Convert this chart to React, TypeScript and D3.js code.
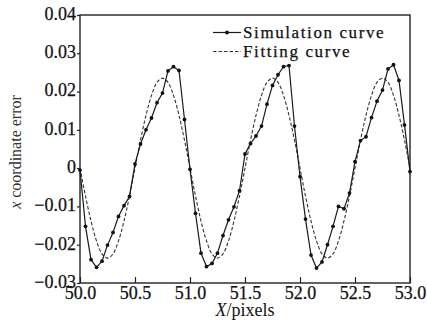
import { useEffect, useRef } from 'react'
import * as d3 from 'd3'

// sample positions shared by both curves (pixels)
const sampleX = [
  50.0, 50.05, 50.1, 50.15, 50.2, 50.25, 50.3, 50.35, 50.4, 50.45,
  50.5, 50.55, 50.6, 50.65, 50.7, 50.75, 50.8, 50.85, 50.9, 50.95,
  51.0, 51.05, 51.1, 51.15, 51.2, 51.25, 51.3, 51.35, 51.4, 51.45,
  51.5, 51.55, 51.6, 51.65, 51.7, 51.75, 51.8, 51.85, 51.9, 51.95,
  52.0, 52.05, 52.1, 52.15, 52.2, 52.25, 52.3, 52.35, 52.4, 52.45,
  52.5, 52.55, 52.6, 52.65, 52.7, 52.75, 52.8, 52.85, 52.9, 52.95,
  53.0,
]

const simulationY = [
  -0.0005, -0.0152, -0.0239, -0.0259, -0.0243, -0.0201, -0.0168, -0.0126, -0.0098, -0.0074,
  0.0011, 0.0063, 0.01, 0.0131, 0.0171, 0.0196, 0.0254, 0.0265, 0.0255, 0.0127,
  -0.0003, -0.0118, -0.0222, -0.0257, -0.0249, -0.0222, -0.0176, -0.0135, -0.0101, -0.0059,
  0.0037, 0.0064, 0.0084, 0.011, 0.0167, 0.0216, 0.0244, 0.0265, 0.0268, 0.011,
  -0.0022, -0.0133, -0.0227, -0.0261, -0.0245, -0.02, -0.0152, -0.01, -0.0106, -0.0065,
  0.0017, 0.0072, 0.0082, 0.0132, 0.0175, 0.0204, 0.0259, 0.027, 0.0229, 0.0113,
  -0.0009,
]

const fittingY = [
  0, -0.0073, -0.0138, -0.019, -0.0224, -0.0235, -0.0224, -0.019, -0.0138, -0.0073,
  0, 0.0073, 0.0138, 0.019, 0.0224, 0.0235, 0.0224, 0.019, 0.0138, 0.0073,
  0, -0.0073, -0.0138, -0.019, -0.0224, -0.0235, -0.0224, -0.019, -0.0138, -0.0073,
  0, 0.0073, 0.0138, 0.019, 0.0224, 0.0235, 0.0224, 0.019, 0.0138, 0.0073,
  0, -0.0073, -0.0138, -0.019, -0.0224, -0.0235, -0.0224, -0.019, -0.0138, -0.0073,
  0, 0.0073, 0.0138, 0.019, 0.0224, 0.0235, 0.0224, 0.019, 0.0138, 0.0073,
  0,
]

const xTicks = [50.0, 50.5, 51.0, 51.5, 52.0, 52.5, 53.0]
const yTicks = [0.04, 0.03, 0.02, 0.01, 0, -0.01, -0.02, -0.03]
const yTickLabels = ['0.04', '0.03', '0.02', '0.01', '0', '\u22120.01', '\u22120.02', '\u22120.03']
const legendLabels = ['Simulation curve', 'Fitting curve']

const width = 427
const height = 331
const font = '"Liberation Serif", "DejaVu Serif", serif'

export default function App() {
  const svgRef = useRef<SVGSVGElement>(null)

  useEffect(() => {
    if (!svgRef.current) return
    const svg = d3.select(svgRef.current)
    svg.selectAll('*').remove()

    const margin = { top: 15, right: 17, bottom: 48, left: 80 }
    const innerWidth = width - margin.left - margin.right
    const innerHeight = height - margin.top - margin.bottom

    const xScale = d3.scaleLinear().domain([50, 53]).range([0, innerWidth])
    const yScale = d3.scaleLinear().domain([-0.03, 0.04]).range([innerHeight, 0])

    const g = svg.append('g').attr('transform', `translate(${margin.left},${margin.top})`)

    // x axis, ticks pointing inward
    const xAxis = d3
      .axisBottom(xScale)
      .tickValues(xTicks)
      .tickSize(-6)
      .tickPadding(3)
      .tickFormat((d) => d3.format('.1f')(d as number))

    const xg = g.append('g').attr('transform', `translate(0,${innerHeight})`).call(xAxis)
    xg.select('.domain').remove()
    xg.selectAll('line').attr('stroke', '#222').attr('stroke-width', 1.2)
    xg.selectAll('text')
      .style('font-family', font)
      .style('font-size', '18px')
      .attr('fill', '#111')
      .attr('stroke', '#111')
      .attr('stroke-width', 0.25)

    // y axis, short outward ticks
    const yAxis = d3
      .axisLeft(yScale)
      .tickValues(yTicks)
      .tickSize(3)
      .tickPadding(1)
      .tickFormat((_, i) => yTickLabels[i])

    const yg = g.append('g').call(yAxis)
    yg.select('.domain').remove()
    yg.selectAll('line').attr('stroke', '#222').attr('stroke-width', 1.2)
    yg.selectAll('text')
      .style('font-family', font)
      .style('font-size', '18px')
      .attr('dy', '0.24em')
      .attr('fill', '#111')
      .attr('stroke', '#111')
      .attr('stroke-width', 0.25)

    // frame
    g.append('rect')
      .attr('width', innerWidth)
      .attr('height', innerHeight)
      .attr('fill', 'none')
      .attr('stroke', '#222')
      .attr('stroke-width', 1.4)

    const fitting = sampleX.map((x, i) => ({ x, y: fittingY[i] }))
    const simulation = sampleX.map((x, i) => ({ x, y: simulationY[i] }))

    const smooth = d3
      .line<{ x: number; y: number }>()
      .x((d) => xScale(d.x))
      .y((d) => yScale(d.y))
      .curve(d3.curveCatmullRom)

    g.append('path')
      .datum(fitting)
      .attr('fill', 'none')
      .attr('stroke', '#333')
      .attr('stroke-width', 1.1)
      .attr('stroke-dasharray', '3.5,2')
      .attr('d', smooth)

    const straight = d3
      .line<{ x: number; y: number }>()
      .x((d) => xScale(d.x))
      .y((d) => yScale(d.y))

    g.append('path')
      .datum(simulation)
      .attr('fill', 'none')
      .attr('stroke', '#1a1a1a')
      .attr('stroke-width', 1.2)
      .attr('d', straight)

    g.append('g')
      .selectAll('circle')
      .data(simulation)
      .join('circle')
      .attr('cx', (d) => xScale(d.x))
      .attr('cy', (d) => yScale(d.y))
      .attr('r', 1.9)
      .attr('fill', '#111')

    // legend
    const rowGap = 19
    const lg = g.append('g').attr('transform', `translate(${133},${17.5})`)
    lg.append('line')
      .attr('x1', 0).attr('x2', 28).attr('y1', 0).attr('y2', 0)
      .attr('stroke', '#1a1a1a').attr('stroke-width', 1.2)
    lg.append('circle').attr('cx', 14).attr('cy', 0).attr('r', 1.9).attr('fill', '#111')
    lg.append('line')
      .attr('x1', 0).attr('x2', 28).attr('y1', rowGap).attr('y2', rowGap)
      .attr('stroke', '#333').attr('stroke-width', 1.1).attr('stroke-dasharray', '3.5,2')
    lg.selectAll('text')
      .data(legendLabels)
      .join('text')
      .attr('x', 30)
      .attr('y', (_, i) => i * rowGap)
      .attr('dy', '0.33em')
      .style('font-family', font)
      .style('font-size', '17px')
      .style('letter-spacing', '1.6px')
      .attr('fill', '#111')
      .attr('stroke', '#111')
      .attr('stroke-width', 0.25)
      .text((d) => d)

    // axis titles
    const xt = g.append('text')
      .attr('x', innerWidth / 2)
      .attr('y', innerHeight + 33)
      .attr('text-anchor', 'middle')
      .style('font-family', font)
      .style('font-size', '18px')
      .attr('fill', '#111')
    xt.append('tspan').style('font-style', 'italic').text('X')
    xt.append('tspan').text('/pixels')

    const yt = g.append('text')
      .attr('transform', 'rotate(-90)')
      .attr('x', -(152 - margin.top))
      .attr('y', -59)
      .attr('text-anchor', 'middle')
      .style('font-family', font)
      .style('font-size', '16px')
      .attr('fill', '#333')
    yt.append('tspan').style('font-style', 'italic').text('x')
    yt.append('tspan').text(' coordinate error')
  }, [])

  return (
    <svg
      ref={svgRef}
      width={width}
      height={height}
      style={{ position: 'absolute', left: 0, top: 0, background: '#fff' }}
    />
  )
}
